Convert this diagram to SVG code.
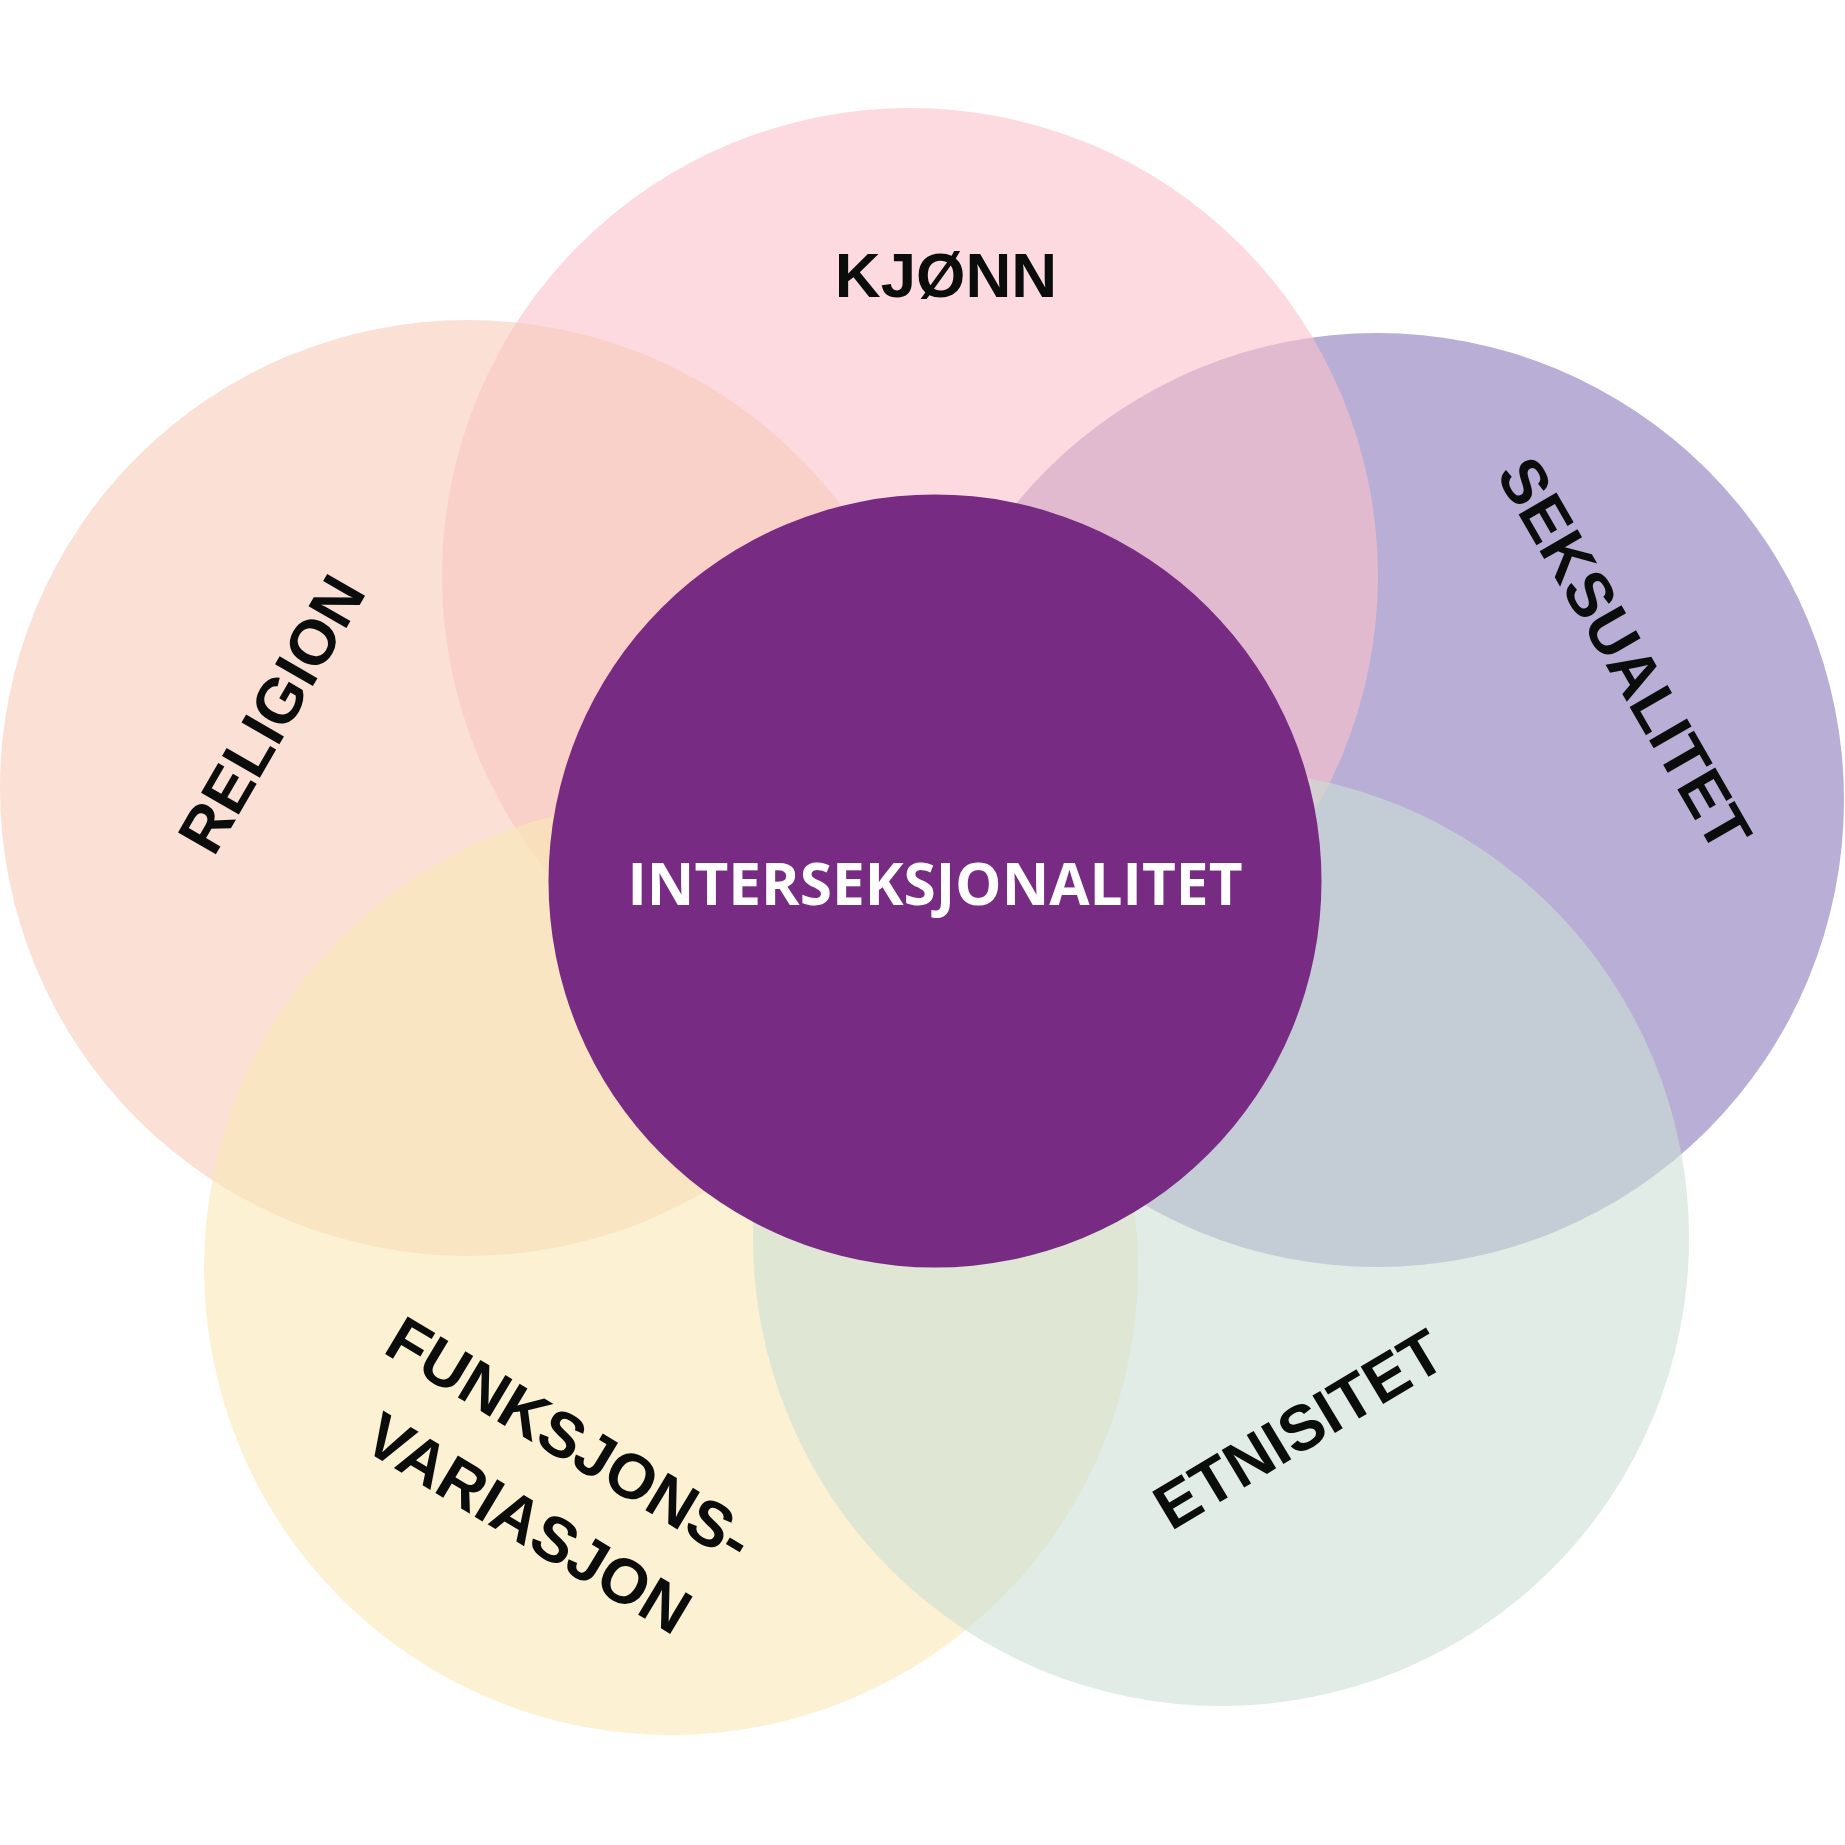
<svg xmlns="http://www.w3.org/2000/svg" width="1845" height="1845" viewBox="0 0 1845 1845">
  <style>
    .ring { opacity: 0.6; }
    .lbl { font-family: "Liberation Sans", Arial, sans-serif; font-weight: 700; font-size: 63.5px; fill: #0b0c0c; text-anchor: middle; }
    .core { font-family: "Open Sans", "Noto Sans", sans-serif; font-weight: 700; font-size: 58.5px; fill: #ffffff; text-anchor: middle; }
  </style>
  <rect width="1845" height="1845" fill="#ffffff"/>
  <g id="seksualitet">
    <circle class="ring" cx="1377" cy="800" r="467" fill="#8a78bb"/>
  </g>
  <g id="kjonn">
    <circle class="ring" cx="910" cy="576" r="468" fill="#fcc1ca"/>
  </g>
  <g id="religion">
    <circle class="ring" cx="468" cy="788" r="468" fill="#f7cbb9"/>
  </g>
  <g id="funksjonsvariasjon">
    <circle class="ring" cx="671" cy="1268" r="467" fill="#fae8b6"/>
  </g>
  <g id="etnisitet">
    <circle class="ring" cx="1221" cy="1238" r="468" fill="#cbdfd4"/>
  </g>
  <g id="interseksjonalitet">
    <circle cx="935" cy="881" r="386.5" fill="#772b83"/>
    <text class="core" x="935" y="905">INTERSEKSJONALITET</text>
  </g>
  <g id="labels">
    <text class="lbl" x="946" y="297">KJØNN</text>
    <text class="lbl" transform="translate(290.5,725) rotate(-60)">RELIGION</text>
    <text class="lbl" transform="translate(1605.5,665) rotate(60)">SEKSUALITET</text>
    <text class="lbl" transform="translate(1310,1448) rotate(-31)">ETNISITET</text>
    <text class="lbl" transform="translate(558.5,1458) rotate(31)">FUNKSJONS-</text>
    <text class="lbl" transform="translate(517,1542) rotate(31)">VARIASJON</text>
  </g>
</svg>
